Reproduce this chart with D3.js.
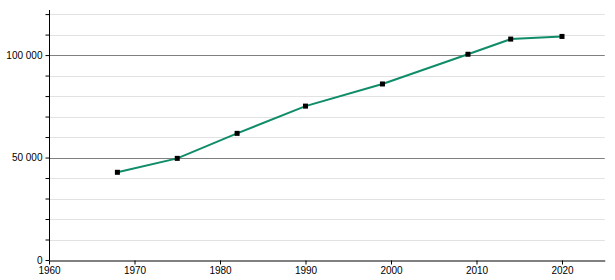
<!DOCTYPE html>
<html>
<head>
<meta charset="utf-8">
<script src="https://cdn.jsdelivr.net/npm/d3@7"></script>
<style>
  body { margin: 0; background: #fff; }
  text { font-family: "Liberation Sans", Arial, sans-serif; font-size: 10px; fill: #000; }
</style>
</head>
<body>
<script>
// population by census year
var years = [1968, 1975, 1982, 1990, 1999, 2009, 2014, 2020];
var population = [42800, 49600, 61800, 75100, 85900, 100400, 107800, 109100];

var xTicks = [1960, 1970, 1980, 1990, 2000, 2010, 2020];
var yMajor = [0, 50000, 100000];
var yMinor = [10000, 20000, 30000, 40000, 60000, 70000, 80000, 90000, 110000, 120000];

var svgWidth = 615;
var svgHeight = 280;

var svg = d3.select("body")
  .append("svg")
  .attr("width", svgWidth)
  .attr("height", svgHeight);

// scales
var x = d3.scaleLinear().domain([1960, 2025]).range([49, 604.75]);
var y = d3.scaleLinear().domain([0, 122000]).range([260, 10]);

// minor gridlines
svg.append("g")
  .selectAll("line")
  .data(yMinor)
  .enter()
  .append("line")
  .attr("x1", x(1960))
  .attr("x2", x(2025))
  .attr("y1", function(d) { return Math.round(y(d)) + 0.5; })
  .attr("y2", function(d) { return Math.round(y(d)) + 0.5; })
  .attr("stroke", "#e2e2e2")
  .attr("stroke-width", 1);

// major gridlines
svg.append("g")
  .selectAll("line")
  .data(yMajor.slice(1))
  .enter()
  .append("line")
  .attr("x1", x(1960))
  .attr("x2", x(2025))
  .attr("y1", function(d) { return Math.round(y(d)) + 0.5; })
  .attr("y2", function(d) { return Math.round(y(d)) + 0.5; })
  .attr("stroke", "#808080")
  .attr("stroke-width", 1);

// y axis: minor ticks unlabeled, majors labelled with a space as thousands sep
var fmt = function(d) { return d3.format(",")(d).replace(/,/g, " "); };

svg.append("g")
  .attr("transform", "translate(49.5,0)")
  .call(d3.axisLeft(y).tickValues(yMinor).tickSize(4).tickFormat(""))
  .call(function(g) { g.select(".domain").remove(); });

var yAxis = svg.append("g")
  .attr("transform", "translate(49.5,0)")
  .call(d3.axisLeft(y).tickValues(yMajor).tickSize(4).tickPadding(3).tickFormat(fmt));
yAxis.selectAll("text").style("font-size", "10px").style("font-family", "Liberation Sans, Arial, sans-serif").attr("fill", "#000");
yAxis.select(".domain").attr("d", "M0," + y.range()[0] + "V" + y.range()[1]);

// x axis
var xAxis = svg.append("g")
  .attr("transform", "translate(0,260.5)")
  .call(d3.axisBottom(x).tickValues(xTicks).tickSize(4).tickSizeOuter(0).tickPadding(2).tickFormat(d3.format("d")));
xAxis.selectAll("text").style("font-size", "10px").style("font-family", "Liberation Sans, Arial, sans-serif").attr("fill", "#000");

// line
var line = d3.line()
  .x(function(d, i) { return x(years[i]); })
  .y(function(d) { return y(d); });

svg.append("path")
  .datum(population)
  .attr("d", line)
  .attr("fill", "none")
  .attr("stroke", "#0f8c68")
  .attr("stroke-width", 2);

// markers
svg.append("g")
  .selectAll("rect")
  .data(population)
  .enter()
  .append("rect")
  .attr("x", function(d, i) { return x(years[i]) - 2.5; })
  .attr("y", function(d) { return y(d) - 2.5; })
  .attr("width", 5)
  .attr("height", 5)
  .attr("fill", "#000");
</script>
</body>
</html>
